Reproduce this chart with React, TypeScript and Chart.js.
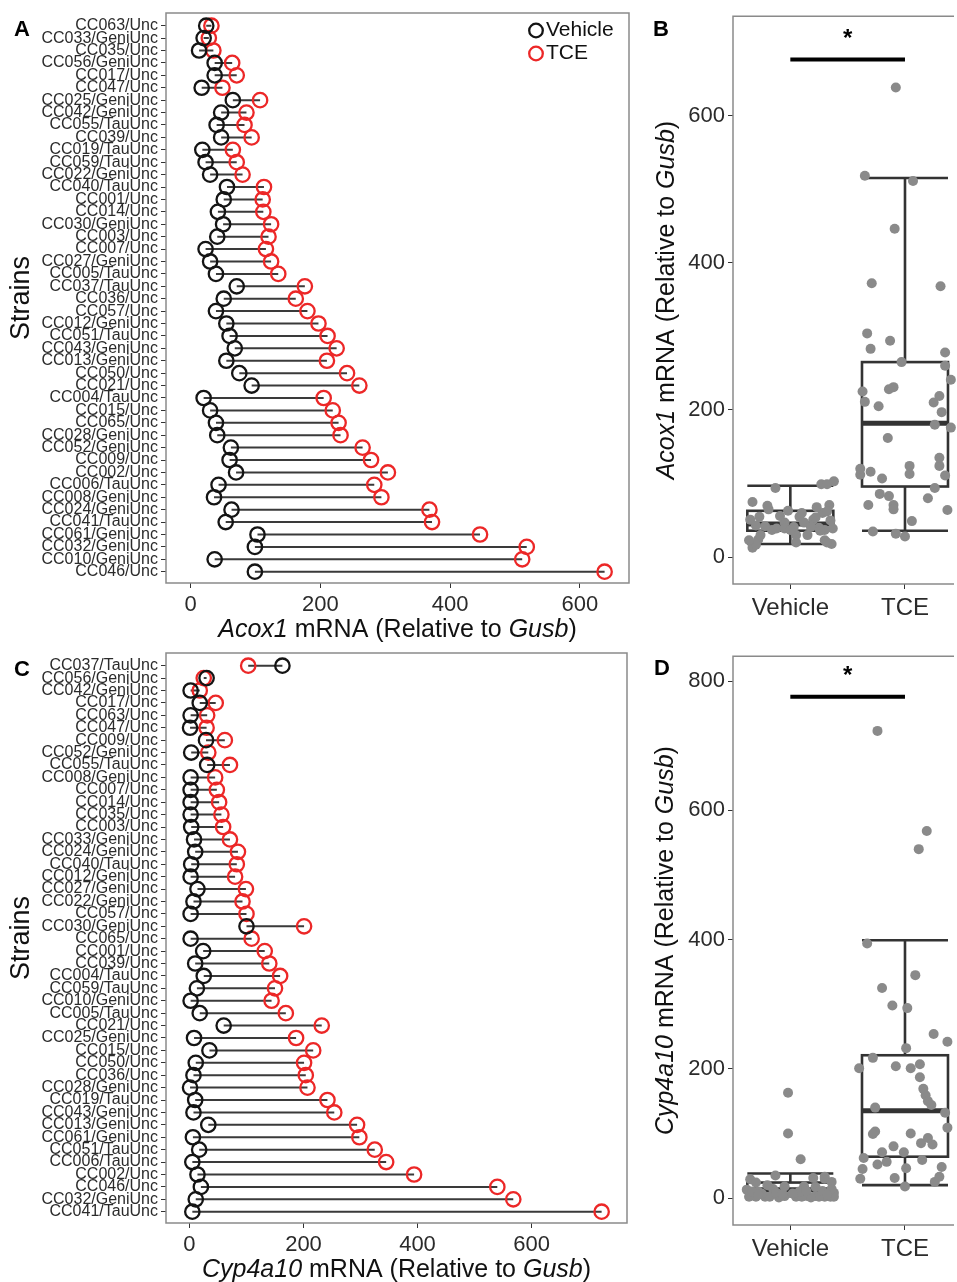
import React, { useEffect, useRef } from "react";
import { Chart, registerables } from "chart.js";
Chart.register(...registerables);

const FONT = "'Liberation Sans', Arial, Helvetica, sans-serif";

// ---------- Panel A (Acox1) ----------
const acoxStrains = [
  "CC063/Unc", "CC033/GeniUnc", "CC035/Unc", "CC056/GeniUnc", "CC017/Unc", "CC047/Unc",
  "CC025/GeniUnc", "CC042/GeniUnc", "CC055/TauUnc", "CC039/Unc", "CC019/TauUnc", "CC059/TauUnc",
  "CC022/GeniUnc", "CC040/TauUnc", "CC001/Unc", "CC014/Unc", "CC030/GeniUnc", "CC003/Unc",
  "CC007/Unc", "CC027/GeniUnc", "CC005/TauUnc", "CC037/TauUnc", "CC036/Unc", "CC057/Unc",
  "CC012/GeniUnc", "CC051/TauUnc", "CC043/GeniUnc", "CC013/GeniUnc", "CC050/Unc", "CC021/Unc",
  "CC004/TauUnc", "CC015/Unc", "CC065/Unc", "CC028/GeniUnc", "CC052/GeniUnc", "CC009/Unc",
  "CC002/Unc", "CC006/TauUnc", "CC008/GeniUnc", "CC024/GeniUnc", "CC041/TauUnc", "CC061/GeniUnc",
  "CC032/GeniUnc", "CC010/GeniUnc", "CC046/Unc",
];
const acoxVehicle = [
  24, 20, 13, 37, 37, 17, 65, 47, 40, 47, 18, 23, 30, 56, 51, 42, 50, 41, 23, 30, 39, 71, 51,
  39, 55, 60, 68, 55, 75, 94, 20, 30, 39, 41, 62, 60, 70, 43, 36, 63, 54, 103, 99, 37, 99,
];
const acoxTCE = [
  32, 28, 35, 64, 71, 49, 107, 86, 83, 94, 65, 71, 80, 113, 111, 112, 124, 120, 116, 124, 135,
  176, 162, 180, 197, 211, 225, 210, 241, 260, 205, 219, 228, 231, 265, 278, 304, 283, 294, 368,
  372, 446, 518, 511, 638,
];
const acoxXTicks = [0, 200, 400, 600];
const acoxTitle = [{ t: "Acox1", i: true }, { t: " mRNA (Relative to " }, { t: "Gusb", i: true }, { t: ")" }];

// ---------- Panel C (Cyp4a10) ----------
const cypStrains = [
  "CC037/TauUnc", "CC056/GeniUnc", "CC042/GeniUnc", "CC017/Unc", "CC063/Unc", "CC047/Unc",
  "CC009/Unc", "CC052/GeniUnc", "CC055/TauUnc", "CC008/GeniUnc", "CC007/Unc", "CC014/Unc",
  "CC035/Unc", "CC003/Unc", "CC033/GeniUnc", "CC024/GeniUnc", "CC040/TauUnc", "CC012/GeniUnc",
  "CC027/GeniUnc", "CC022/GeniUnc", "CC057/Unc", "CC030/GeniUnc", "CC065/Unc", "CC001/Unc",
  "CC039/Unc", "CC004/TauUnc", "CC059/TauUnc", "CC010/GeniUnc", "CC005/TauUnc", "CC021/Unc",
  "CC025/GeniUnc", "CC015/Unc", "CC050/Unc", "CC036/Unc", "CC028/GeniUnc", "CC019/TauUnc",
  "CC043/GeniUnc", "CC013/GeniUnc", "CC061/GeniUnc", "CC051/TauUnc", "CC006/TauUnc", "CC002/Unc",
  "CC046/Unc", "CC032/GeniUnc", "CC041/TauUnc",
];
const cypVehicle = [
  163, 30, 2, 18, 2, 1, 29, 3, 31, 2, 2, 2, 2, 3, 8, 10, 3, 2, 14, 7, 2, 100, 2, 24, 10, 25, 13,
  2, 18, 60, 8, 35, 11, 7, 1, 10, 7, 33, 6, 17, 5, 14, 20, 11, 5,
];
const cypTCE = [
  103, 25, 18, 46, 31, 30, 62, 33, 71, 45, 48, 52, 56, 59, 71, 85, 83, 80, 99, 93, 100, 201, 109,
  132, 140, 159, 150, 144, 169, 232, 187, 217, 201, 204, 207, 242, 254, 294, 298, 325, 345, 394,
  540, 568, 723,
];
const cypXTicks = [0, 200, 400, 600];
const cypTitle = [{ t: "Cyp4a10", i: true }, { t: " mRNA (Relative to " }, { t: "Gusb", i: true }, { t: ")" }];

// ---------- Panels B & D (box plots) ----------
const groups = ["Vehicle", "TCE"];
const acoxBoxTicks = [0, 200, 400, 600];
const cypBoxTicks = [0, 200, 400, 600, 800];
// [lower whisker, Q1, median, Q3, upper whisker]
const acoxBoxVehicle = [18, 36, 45, 63, 97];
const acoxBoxTCE = [36, 96, 182, 265, 515];
const cypBoxVehicle = [3, 6, 13, 24, 38];
const cypBoxTCE = [20, 64, 135, 221, 399];
const acoxSignif = 676;
const cypSignif = 776;
// horizontal jitter of each strain's dot (in category units)
const acoxVehicleJitter = [
  -0.28, 0.05, -0.33, 0.3, -0.16, -0.3, -0.19, -0.05, 0.25, 0.12, 0.36, 0.3, -0.26, -0.09, 0.2,
  -0.22, 0.35, 0.03, -0.36, 0.15, -0.12, 0.34, -0.35, 0.37, 0.08, 0.28, 0.23, -0.27, -0.33, -0.13,
  0.32, 0.05, -0.05, 0.18, 0.32, 0.1, -0.2, -0.3, 0.26, -0.02, 0.22, 0.38, 0.27, 0.0, 0.32,
];
const acoxTCEJitter = [
  -0.08, 0.0, -0.28, 0.37, -0.1, 0.06, -0.2, -0.22, -0.14, 0.26, -0.1, -0.32, 0.2, 0.04, 0.35,
  -0.39, 0.3, -0.39, -0.3, 0.04, 0.3, 0.4, -0.15, 0.26, 0.32, -0.35, -0.37, 0.25, 0.4, 0.35,
  -0.23, 0.3, -0.14, -0.1, -0.03, 0.35, -0.33, -0.3, -0.13, 0.31, -0.29, -0.09, -0.35, 0.07, -0.08,
];
const cypVehicleJitter = [
  -0.02, 0.3, -0.3, 0.12, 0.35, -0.1, -0.35, 0.22, 0.2, -0.22, 0.05, 0.3, -0.36, -0.05, 0.38,
  -0.28, 0.15, 0.25, -0.15, 0.33, -0.18, -0.02, 0.1, -0.3, 0.08, 0.36, -0.38, 0.38, -0.05, 0.09,
  -0.12, -0.13, 0.28, -0.25, 0.18, -0.33, 0.02, 0.3, -0.07, 0.22, -0.28, 0.36, -0.2, 0.14, 0.32,
];
const cypTCEJitter = [
  -0.26, 0.26, 0.0, 0.01, -0.09, -0.39, -0.36, 0.3, -0.01, -0.37, 0.32, -0.24, -0.16, 0.15, -0.2,
  0.14, 0.24, -0.1, -0.28, 0.2, 0.05, -0.4, 0.37, 0.35, -0.26, 0.18, 0.2, 0.23, 0.16, 0.01, 0.13,
  -0.28, 0.05, -0.08, 0.13, 0.37, 0.25, 0.02, -0.11, -0.2, 0.09, -0.33, 0.12, 0.19, -0.24,
];

const RED = "#ec2727";
const BLACK = "#141414";
const TXT = "#2b2b2b";

type Part = { t: string; i?: boolean };
function drawMixed(ctx: CanvasRenderingContext2D, parts: Part[], cx: number, cy: number, size: number, color: string) {
  const fonts = parts.map((p) => `${p.i ? "italic " : ""}${size}px ${FONT}`);
  let total = 0;
  const widths = parts.map((p, k) => {
    ctx.font = fonts[k];
    const w = ctx.measureText(p.t).width;
    total += w;
    return w;
  });
  let x = cx - total / 2;
  ctx.textBaseline = "middle";
  ctx.textAlign = "left";
  ctx.fillStyle = color;
  parts.forEach((p, k) => {
    ctx.font = fonts[k];
    ctx.fillText(p.t, x, cy);
    x += widths[k];
  });
}

function drawLetter(ctx: CanvasRenderingContext2D, s: string, x: number, y: number) {
  ctx.font = `bold 22px ${FONT}`;
  ctx.fillStyle = "#000";
  ctx.textAlign = "center";
  ctx.textBaseline = "middle";
  ctx.fillText(s, x, y);
}

function dumbbellConfig(p: any) {
  const seg: any[] = [];
  p.strains.forEach((_: string, i: number) => {
    seg.push({ x: p.veh[i], y: i }, { x: p.tce[i], y: i }, { x: null, y: null });
  });
  const decor = {
    id: "decor" + p.letter,
    afterDraw(chart: any) {
      const { ctx, chartArea: a } = chart;
      ctx.save();
      ctx.strokeStyle = "#8a8a8a";
      ctx.lineWidth = 1.5;
      ctx.strokeRect(a.left, a.top, a.right - a.left, a.bottom - a.top);
      drawMixed(ctx, p.title, (a.left + a.right) / 2, 630, 25, "#111");
      ctx.save();
      ctx.translate(22, (a.top + a.bottom) / 2);
      ctx.rotate(-Math.PI / 2);
      drawMixed(ctx, [{ t: "Strains" }], 0, 0, 27, "#111");
      ctx.restore();
      drawLetter(ctx, p.letter, 22, 30);
      if (p.legend) {
        const items = [
          { label: "Vehicle", color: BLACK, y: 30.5 },
          { label: "TCE", color: RED, y: 53.5 },
        ];
        items.forEach((it) => {
          ctx.beginPath();
          ctx.arc(536, it.y, 6.8, 0, Math.PI * 2);
          ctx.strokeStyle = it.color;
          ctx.lineWidth = 2.3;
          ctx.stroke();
          ctx.font = `21px ${FONT}`;
          ctx.fillStyle = "#111";
          ctx.textAlign = "left";
          ctx.textBaseline = "middle";
          ctx.fillText(it.label, 546, it.y);
        });
      }
      ctx.restore();
    },
  };
  return {
    type: "scatter",
    data: {
      datasets: [
        {
          data: p.veh.map((v: number, i: number) => ({ x: v, y: i })),
          order: 1,
          showLine: false,
          pointRadius: 7.2,
          pointBorderWidth: 2.3,
          pointBorderColor: BLACK,
          pointBackgroundColor: "rgba(0,0,0,0)",
        },
        {
          data: p.tce.map((v: number, i: number) => ({ x: v, y: i })),
          order: 2,
          showLine: false,
          pointRadius: 7.2,
          pointBorderWidth: 2.3,
          pointBorderColor: RED,
          pointBackgroundColor: "rgba(0,0,0,0)",
        },
        {
          data: seg,
          order: 3,
          showLine: true,
          spanGaps: false,
          borderColor: "#3a3a3a",
          borderWidth: 2,
          pointRadius: 0,
        },
      ],
    },
    options: {
      responsive: false,
      animation: false,
      devicePixelRatio: 1,
      events: [],
      layout: { padding: { top: 13, right: p.rightPad, left: 0, bottom: 0 } },
      plugins: { legend: { display: false }, tooltip: { enabled: false } },
      scales: {
        x: {
          type: "linear",
          min: p.xMin,
          max: p.xMax,
          afterBuildTicks: (s: any) => {
            s.ticks = p.xTicks.map((v: number) => ({ value: v }));
          },
          afterFit: (s: any) => {
            s.height = p.xHeight;
          },
          grid: { drawOnChartArea: false, drawTicks: true, tickLength: 5, color: "#333", lineWidth: 1 },
          border: { display: false },
          ticks: {
            font: { family: FONT, size: 22 },
            color: TXT,
            padding: 4,
            maxRotation: 0,
            autoSkip: false,
            callback: (v: number) => String(v),
          },
        },
        y: {
          type: "linear",
          reverse: true,
          min: -1.023,
          max: 44.91,
          afterBuildTicks: (s: any) => {
            s.ticks = p.strains.map((_: string, i: number) => ({ value: i }));
          },
          afterFit: (s: any) => {
            s.width = 166;
          },
          grid: { drawOnChartArea: false, drawTicks: true, tickLength: 5, color: "#333", lineWidth: 1 },
          border: { display: false },
          ticks: {
            font: { family: FONT, size: 16 },
            color: TXT,
            padding: 3,
            autoSkip: false,
            callback: (v: number) => p.strains[v] ?? "",
          },
        },
      },
    },
    plugins: [decor],
  };
}

function boxConfig(p: any) {
  const decor = {
    id: "box" + p.letter,
    beforeDatasetsDraw(chart: any) {
      const { ctx } = chart;
      const xs = chart.scales.x;
      const ys = chart.scales.y;
      ctx.save();
      [p.boxVeh, p.boxTCE].forEach((st: number[], g: number) => {
        const cx = xs.getPixelForValue(g + 1);
        const half = xs.getPixelForValue(g + 1 + 0.375) - cx;
        const [lo, q1, med, q3, hi] = st.map((v) => ys.getPixelForValue(v));
        ctx.strokeStyle = "#333";
        ctx.lineWidth = 2.6;
        ctx.beginPath();
        ctx.moveTo(cx, hi);
        ctx.lineTo(cx, q3);
        ctx.moveTo(cx, q1);
        ctx.lineTo(cx, lo);
        ctx.moveTo(cx - half, hi);
        ctx.lineTo(cx + half, hi);
        ctx.moveTo(cx - half, lo);
        ctx.lineTo(cx + half, lo);
        ctx.stroke();
        ctx.strokeRect(cx - half, q3, 2 * half, q1 - q3);
        ctx.lineWidth = 5;
        ctx.beginPath();
        ctx.moveTo(cx - half, med);
        ctx.lineTo(cx + half, med);
        ctx.stroke();
      });
      ctx.restore();
    },
    afterDraw(chart: any) {
      const { ctx, chartArea: a } = chart;
      const xs = chart.scales.x;
      const ys = chart.scales.y;
      ctx.save();
      ctx.strokeStyle = "#8a8a8a";
      ctx.lineWidth = 1.5;
      ctx.beginPath();
      ctx.moveTo(a.right + 2, a.top);
      ctx.lineTo(a.left, a.top);
      ctx.lineTo(a.left, a.bottom);
      ctx.lineTo(a.right + 2, a.bottom);
      ctx.stroke();
      const x1 = xs.getPixelForValue(1);
      const x2 = xs.getPixelForValue(2);
      const sy = ys.getPixelForValue(p.signif);
      ctx.strokeStyle = "#000";
      ctx.lineWidth = 4;
      ctx.beginPath();
      ctx.moveTo(x1, sy);
      ctx.lineTo(x2, sy);
      ctx.stroke();
      ctx.font = `bold 24px ${FONT}`;
      ctx.fillStyle = "#000";
      ctx.textAlign = "center";
      ctx.textBaseline = "middle";
      ctx.fillText("*", (x1 + x2) / 2, sy - 20);
      ctx.save();
      ctx.translate(p.titleX, (a.top + a.bottom) / 2);
      ctx.rotate(-Math.PI / 2);
      drawMixed(ctx, p.title, 0, 0, 25, "#111");
      ctx.restore();
      drawLetter(ctx, p.letter, p.letterX, p.letterY);
      ctx.restore();
    },
  };
  const pts = (vals: number[], jit: number[], g: number) => vals.map((v, i) => ({ x: g + jit[i], y: v }));
  return {
    type: "scatter",
    data: {
      datasets: [
        {
          data: [...pts(p.veh, p.vehJit, 1), ...pts(p.tce, p.tceJit, 2)],
          pointRadius: 5,
          pointBorderWidth: 0,
          pointBackgroundColor: "#8a8a8a",
          clip: false,
        },
      ],
    },
    options: {
      responsive: false,
      animation: false,
      devicePixelRatio: 1,
      events: [],
      layout: { padding: { top: p.padTop, right: 0, left: 0, bottom: 0 } },
      plugins: { legend: { display: false }, tooltip: { enabled: false } },
      scales: {
        x: {
          type: "linear",
          min: 0.5,
          max: 2.41,
          afterBuildTicks: (s: any) => {
            s.ticks = [{ value: 1 }, { value: 2 }];
          },
          afterFit: (s: any) => {
            s.height = p.xHeight;
          },
          grid: { drawOnChartArea: false, drawTicks: true, tickLength: 5, color: "#333", lineWidth: 1 },
          border: { display: false },
          ticks: {
            font: { family: FONT, size: 24 },
            color: TXT,
            padding: 5,
            maxRotation: 0,
            autoSkip: false,
            callback: (v: number) => groups[v - 1] ?? "",
          },
        },
        y: {
          type: "linear",
          min: p.yMin,
          max: p.yMax,
          afterBuildTicks: (s: any) => {
            s.ticks = p.yTicks.map((v: number) => ({ value: v }));
          },
          afterFit: (s: any) => {
            s.width = 88;
          },
          grid: { drawOnChartArea: false, drawTicks: true, tickLength: 5, color: "#333", lineWidth: 1 },
          border: { display: false },
          ticks: {
            font: { family: FONT, size: 22 },
            color: TXT,
            padding: 3,
            autoSkip: false,
            callback: (v: number) => String(v),
          },
        },
      },
    },
    plugins: [decor],
  };
}

function ChartCanvas({ left, top, width, height, build }: any) {
  const ref = useRef<HTMLCanvasElement>(null);
  useEffect(() => {
    const chart = new Chart(ref.current as HTMLCanvasElement, build() as any);
    return () => chart.destroy();
  }, []);
  return (
    <canvas
      ref={ref}
      width={width}
      height={height}
      style={{ position: "absolute", left, top, width, height }}
    />
  );
}

const buildA = () =>
  dumbbellConfig({
    strains: acoxStrains, veh: acoxVehicle, tce: acoxTCE, xMin: -38, xMax: 675.6,
    xTicks: acoxXTicks, title: acoxTitle, letter: "A", legend: true, rightPad: 16, xHeight: 62,
  });
const buildC = () =>
  dumbbellConfig({
    strains: cypStrains, veh: cypVehicle, tce: cypTCE, xMin: -41.2, xMax: 767.5,
    xTicks: cypXTicks, title: cypTitle, letter: "C", legend: false, rightPad: 18, xHeight: 59,
  });
const buildB = () =>
  boxConfig({
    veh: acoxVehicle, tce: acoxTCE, vehJit: acoxVehicleJitter, tceJit: acoxTCEJitter,
    boxVeh: acoxBoxVehicle, boxTCE: acoxBoxTCE, signif: acoxSignif, yMin: -36.4, yMax: 734.8,
    yTicks: acoxBoxTicks, title: acoxTitle, letter: "B", letterX: 16, letterY: 30, titleX: 22,
    padTop: 12, xHeight: 61,
  });
const buildD = () =>
  boxConfig({
    veh: cypVehicle, tce: cypTCE, vehJit: cypVehicleJitter, tceJit: cypTCEJitter,
    boxVeh: cypBoxVehicle, boxTCE: cypBoxTCE, signif: cypSignif, yMin: -41.7, yMax: 838.6,
    yTicks: cypBoxTicks, title: cypTitle, letter: "D", letterX: 17, letterY: 29, titleX: 21,
    padTop: 15, xHeight: 57,
  });

export default function App() {
  return (
    <div style={{ position: "absolute", left: 0, top: 0, width: 957, height: 1282, background: "#fff", overflow: "hidden" }}>
      <ChartCanvas left={0} top={0} width={645} height={645} build={buildA} />
      <ChartCanvas left={645} top={0} width={312} height={645} build={buildB} />
      <ChartCanvas left={0} top={640} width={645} height={642} build={buildC} />
      <ChartCanvas left={645} top={640} width={312} height={642} build={buildD} />
    </div>
  );
}
